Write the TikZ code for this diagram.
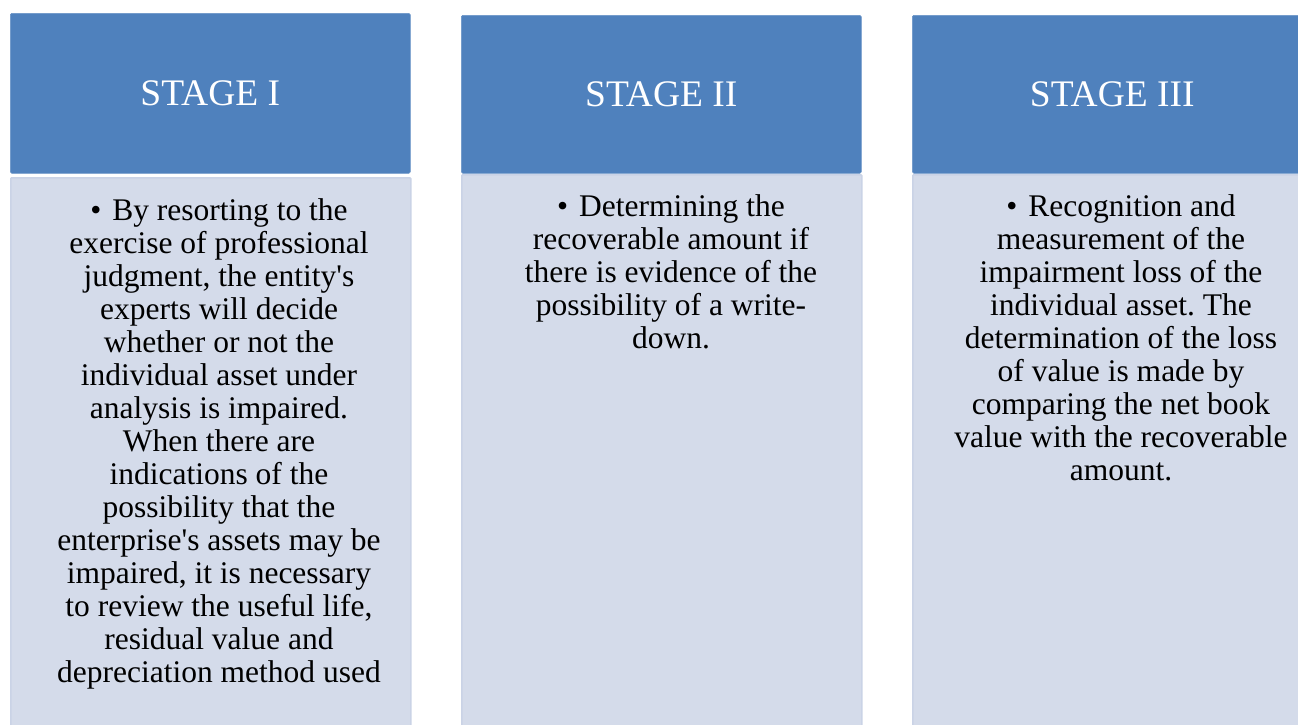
\documentclass[tikz,border=0pt]{standalone}
\usepackage{fontspec}
\setmainfont{Liberation Serif}[Ligatures=TeXOff]
\definecolor{hdrblue}{HTML}{4F81BD}
\definecolor{bodyfill}{HTML}{D4DBEA}
\definecolor{bodyline}{HTML}{CAD3E6}
\newcommand{\bul}{•\hspace{0.35em}}
\begin{document}
\begin{tikzpicture}[x=1pt,y=-1pt,
  header/.style={fill=hdrblue, draw=hdrblue!85!white, line width=0.6pt, rounded corners=1.5pt,
    anchor=north west, minimum width=400pt, minimum height=160pt, inner sep=0pt,
    text=white, font=\fontsize{37.5}{40}\selectfont},
  bodybox/.style={fill=bodyfill, draw=bodyline, line width=1.5pt, rounded corners=1pt,
    anchor=north west, minimum width=400pt, inner sep=0pt},
  bodytext/.style={anchor=north, align=center, inner sep=0pt, text=black,
    font=\fontsize{31.5}{33}\selectfont\frenchspacing}
]
\useasboundingbox (0,0) rectangle (1298,724);
\clip (0,0) rectangle (1298,724);
\fill[white] (0,0) rectangle (1298,724);

% Column 1
\node[header] (h1) at (10,13) {STAGE I};
\node[bodybox, minimum height=560pt] (b1) at (10,177) {};
\node[bodytext] (t1) at (219,198) {\bul By resorting to the\\exercise of professional\\judgment, the entity's\\experts will decide\\whether or not the\\individual asset under\\analysis is impaired.\\When there are\\indications of the\\possibility that the\\enterprise's assets may be\\impaired, it is necessary\\to review the useful life,\\residual value and\\depreciation method used};

% Column 2
\node[header, minimum height=158pt] (h2) at (461,15) {STAGE II};
\node[bodybox, minimum height=560pt] (b2) at (461,174) {};
\node[bodytext] (t2) at (671,194) {\bul Determining the\\recoverable amount if\\there is evidence of the\\possibility of a write-\\down.};

% Column 3
\node[header, minimum height=158pt] (h3) at (912,15) {STAGE III};
\node[bodybox, minimum height=560pt] (b3) at (912,174) {};
\node[bodytext] (t3) at (1121,194) {\bul Recognition and\\measurement of the\\impairment loss of the\\individual asset. The\\determination of the loss\\of value is made by\\comparing the net book\\value with the recoverable\\amount.};
\end{tikzpicture}
\end{document}
